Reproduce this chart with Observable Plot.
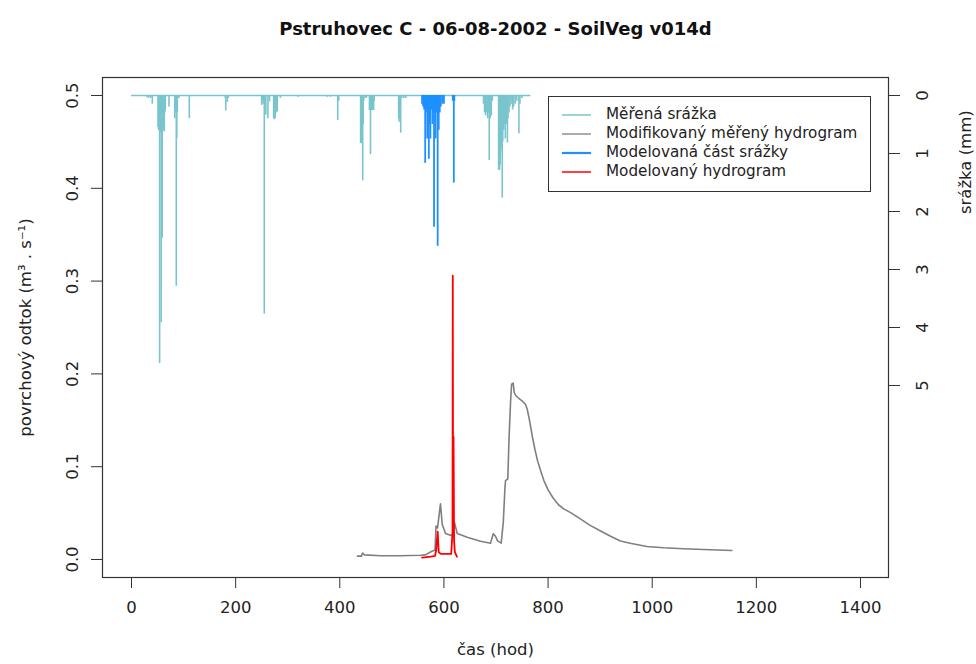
<!DOCTYPE html>
<html>
<head>
<meta charset="utf-8">
<script src="https://cdn.jsdelivr.net/npm/d3@7"></script>
<script src="https://cdn.jsdelivr.net/npm/@observablehq/plot@0.6"></script>
<style>
  html, body { margin: 0; padding: 0; background: #fff; }
  #wrap { position: relative; width: 976px; height: 664px; font-family: "DejaVu Sans", sans-serif; color: #222; }
  #legend { position: absolute; left: 548px; top: 96px; width: 321px; height: 86px; border: 1px solid #333; background: #fff; padding-top: 8px; box-sizing: content-box; }
  .row { height: 19px; line-height: 19px; display: flex; align-items: center; font-size: 15.2px; white-space: nowrap; }
  .row svg { margin-left: 13px; margin-right: 15px; flex: none; }
</style>
</head>
<body>
<div id="wrap"></div>
<script>
// ---- data ----
// measured precipitation (mm), time in hours
const rainT = [0, 30, 33, 37, 40,
  51, 52, 53, 54, 55, 56, 57, 58, 59, 60, 61, 62, 63, 64, 65,
  72, 83, 84, 86, 87, 88, 91, 111,
  180, 181, 184, 186,
  250, 251, 253, 255, 256, 258, 262, 265, 273, 274, 276, 278, 280, 286,
  320, 376, 382, 396, 398,
  440, 441, 442, 443, 444, 445, 446, 449, 451,
  457, 458, 459, 460, 461, 463, 465, 466,
  513, 514, 516, 517, 519, 523, 527,
  676, 678, 680, 682, 684, 686, 687, 689, 691, 693,
  705, 706, 707, 708, 709, 710, 711, 712, 713, 715, 717, 718, 720, 722, 723, 725, 727, 729, 732, 734, 737, 740, 744, 746, 750, 767];
const rainV = [0, 0.04, 0.05, 0.05, 0.15,
  0.55, 0.6, 0.6, 4.62, 0.65, 0.6, 3.92, 0.6, 2.46, 0.55, 0.5, 0.6, 0.63, 0.3, 0.25,
  0.2, 0.4, 0.3, 3.29, 0.74, 0.3, 0.05, 0.4,
  0.05, 0.27, 0.12, 0.05,
  0.17, 0.1, 0.15, 3.77, 0.2, 0.34, 0.4, 0.11, 0.4, 0.42, 0.4, 0.3, 0.28, 0.05,
  0.03, 0.03, 0.03, 0.43, 0.1,
  0.83, 0.8, 0.8, 0.83, 1.47, 0.5, 0.1, 0.05, 0.05,
  0.26, 0.26, 1.02, 0.26, 0.26, 0.26, 0.26, 0.1,
  0.4, 0.46, 0.4, 0.65, 0.05, 0.05, 0.05,
  0.15, 0.3, 0.35, 0.3, 0.4, 0.3, 1.12, 0.4, 0.35, 0.1,
  1.29, 1.25, 1.29, 1.2, 1.0, 0.9, 0.7, 1.77, 0.8, 0.6, 0.5, 0.75, 0.5, 0.82, 0.4, 0.3, 0.2, 0.15, 0.25, 0.2, 0.15, 0.1, 0.66, 0.15, 0.05, 0];
// modelled part of precipitation (mm)
const modT = [558, 560, 562, 564, 566, 568, 570, 571, 573, 574, 576, 578, 580, 581, 583, 584, 586, 588, 590, 592, 594, 597, 600, 617, 619, 620];
const modV = [0.15, 0.2, 0.25, 1.17, 0.3, 0.75, 0.3, 1.1, 0.5, 0.75, 0.25, 0.5, 0.3, 2.27, 0.4, 0.75, 0.3, 2.6, 0.6, 0.3, 0.2, 0.15, 0.15, 0.1, 1.51, 0.1];
// modified measured hydrograph (m3/s)
const obsT = [434, 441.7, 443.6, 447.5, 478, 516.6, 555, 564.6, 574.2, 580, 582.9, 584.8, 587.7, 593.4, 596.7, 603, 612.6, 617.4, 620.3, 625.5, 644.7, 670.3, 689.5, 694.7, 699, 703, 710, 714, 717, 718.3, 722.7, 725, 728, 730, 733, 735, 737.5, 745, 750, 756.7, 760, 765, 770, 775, 780, 786, 792, 800, 810, 820, 830, 845, 862, 880, 900, 920, 939, 960, 990, 1022, 1060, 1112, 1153];
const obsQ = [0.0036, 0.0036, 0.007, 0.005, 0.004, 0.004, 0.0045, 0.005, 0.008, 0.0097, 0.010, 0.036, 0.034, 0.060, 0.038, 0.028, 0.026, 0.027, 0.040, 0.028, 0.024, 0.0197, 0.0176, 0.0277, 0.025, 0.020, 0.0176, 0.04, 0.075, 0.085, 0.087, 0.13, 0.17, 0.189, 0.19, 0.18, 0.177, 0.173, 0.171, 0.167, 0.162, 0.148, 0.132, 0.118, 0.106, 0.095, 0.085, 0.075, 0.066, 0.059, 0.0546, 0.050, 0.0438, 0.037, 0.031, 0.025, 0.020, 0.0172, 0.014, 0.0126, 0.0115, 0.0105, 0.0097];
// modelled hydrograph (m3/s)
const simT = [558, 575, 583, 585, 588, 590, 594, 614, 616.5, 617, 617.6, 618.5, 619.5, 621, 625];
const simQ = [0.002, 0.003, 0.004, 0.010, 0.030, 0.008, 0.006, 0.006, 0.030, 0.306, 0.05, 0.132, 0.02, 0.008, 0.003];

const xTicks = [0, 200, 400, 600, 800, 1000, 1200, 1400];
const yTicks = [0, 0.1, 0.2, 0.3, 0.4, 0.5];
const rainTicks = [0, 1, 2, 3, 4, 5];

const title = "Pstruhovec C - 06-08-2002 - SoilVeg v014d";
const xLabel = "čas (hod)";
const yLabel = "povrchový odtok (m³ . s⁻¹)";
const y2Label = "srážka (mm)";
const legendItems = [
  {label: "Měřená srážka", color: "#7AC5CD", width: 1.5},
  {label: "Modifikovaný měřený hydrogram", color: "#7F7F7F", width: 1.3},
  {label: "Modelovaná část srážky", color: "#1E90FF", width: 2.2},
  {label: "Modelovaný hydrogram", color: "#FF0000", width: 1.5}
];

// secondary (precipitation) axis: hangs from 0.5 m3/s, 1 mm = 0.0625 units
const TOP = 0.5, MM = 0.0625;
const toY = mm => TOP - mm * MM;

const rain = rainT.map((t, i) => ({t, v: rainV[i]}));
const mod = modT.map((t, i) => ({t, v: modV[i]}));
const obs = obsT.map((t, i) => ({t, q: obsQ[i]}));
const sim = simT.map((t, i) => ({t, q: simQ[i]}));

const FS = 16.5;
const FONT = "DejaVu Sans, sans-serif";
const plot = Plot.plot({
  width: 976,
  height: 664,
  marginTop: 77,
  marginBottom: 87,
  marginLeft: 102,
  marginRight: 88,
  style: {fontFamily: FONT, fontSize: FS + "px", color: "#222", background: "transparent", overflow: "visible"},
  x: {domain: [-55.7, 1453.8]},
  y: {domain: [-0.0194, 0.5194]},
  marks: [
    Plot.ruleY([toY(0)], {x1: rainT[0], x2: rainT[rainT.length - 1], stroke: "#7AC5CD", strokeWidth: 1.3}),
    Plot.ruleX(rain, {x: "t", y1: toY(0), y2: d => toY(d.v), stroke: "#7AC5CD", strokeWidth: 1.6}),
    Plot.ruleX(mod, {x: "t", y1: toY(0), y2: d => toY(d.v), stroke: "#1E90FF", strokeWidth: 1.8}),
    Plot.line(obs, {x: "t", y: "q", stroke: "#7F7F7F", strokeWidth: 1.6, curve: "linear"}),
    Plot.line(sim, {x: "t", y: "q", stroke: "#FF0000", strokeWidth: 1.8}),
    Plot.frame({stroke: "#333", strokeWidth: 1.2}),
    Plot.axisX({ticks: xTicks, tickSize: 11, tickPadding: 13, tickFormat: d => String(d), label: null, fontSize: FS, stroke: "#333"}),
    Plot.axisY({ticks: yTicks, tickSize: 11, tickFormat: () => "", label: null, stroke: "#333"}),
    Plot.text(yTicks, {y: d => d, text: d => d.toFixed(1), frameAnchor: "left", textAnchor: "middle", dx: -30, rotate: -90, fontSize: FS, fill: "#222"}),
    Plot.axisY({anchor: "right", ticks: rainTicks.map(toY), tickSize: 11, tickFormat: () => "", label: null, stroke: "#333"}),
    Plot.text(rainTicks, {y: d => toY(d), text: d => String(d), frameAnchor: "right", textAnchor: "middle", dx: 34, rotate: -90, fontSize: FS, fill: "#222"}),
    Plot.text([title], {text: d => d, frameAnchor: "top", textAnchor: "middle", dy: -55, fontWeight: "bold", fontSize: 18, fill: "#111"}),
    Plot.text([xLabel], {text: d => d, frameAnchor: "bottom", textAnchor: "middle", dy: 77, fontSize: FS, fill: "#222"}),
    Plot.text([yLabel], {text: d => d, frameAnchor: "left", textAnchor: "middle", dx: -77, rotate: -90, fontSize: FS, fill: "#222"}),
    Plot.text([y2Label], {text: d => d, y: toY(1.15), frameAnchor: "right", textAnchor: "middle", dx: 77, rotate: -90, fontSize: FS, fill: "#222"})
  ]
});

const wrap = document.getElementById("wrap");
wrap.appendChild(plot);
plot.style.position = "absolute";
plot.style.left = "0px";
plot.style.top = "0px";

const leg = document.createElement("div");
leg.id = "legend";
for (const it of legendItems) {
  const row = document.createElement("div");
  row.className = "row";
  row.innerHTML = `<svg width="29" height="6"><line x1="0" x2="29" y1="3" y2="3" stroke="${it.color}" stroke-width="${it.width}"/></svg><span>${it.label}</span>`;
  leg.appendChild(row);
}
wrap.appendChild(leg);
</script>
</body>
</html>
